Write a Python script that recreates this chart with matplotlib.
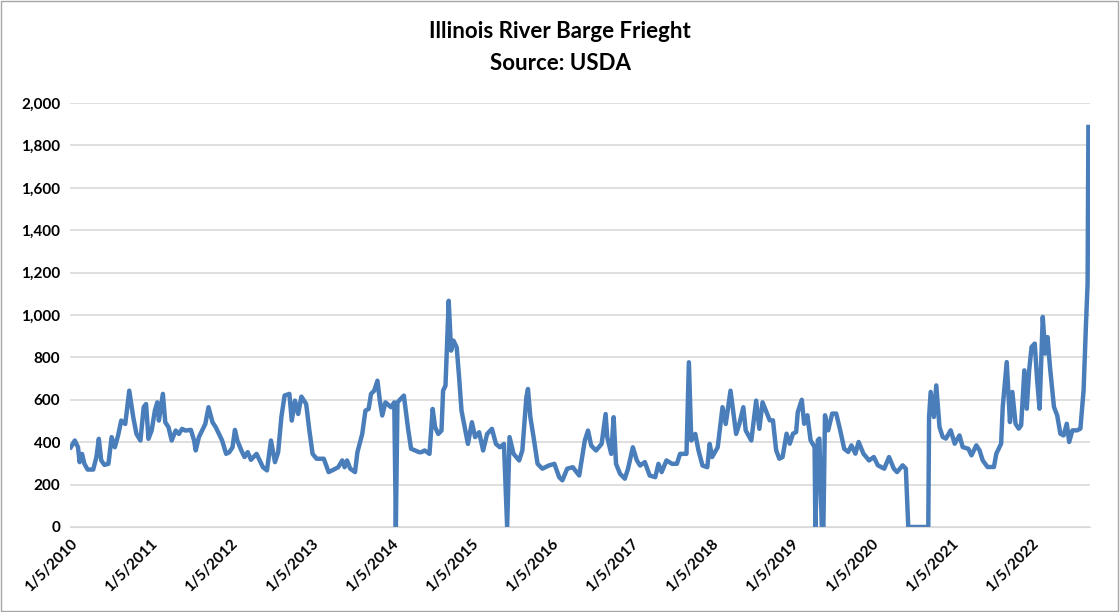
import matplotlib
matplotlib.use("Agg")
import matplotlib.pyplot as plt

# x = years since 1/5/2010, y = freight value
YEARS_OFF = [
    0.00, 0.05, 0.09, 0.11, 0.14, 0.17, 0.21, 0.28, 0.32, 0.35, 0.38, 0.42, 0.47, 0.51,
    0.55, 0.59, 0.63, 0.68, 0.73, 0.78, 0.82, 0.87, 0.91, 0.94, 0.97, 1.01, 1.05, 1.08,
    1.10, 1.15, 1.18, 1.22, 1.26, 1.31, 1.35, 1.39, 1.43, 1.50, 1.54, 1.56, 1.60, 1.64,
    1.68, 1.72, 1.77, 1.81, 1.85, 1.89, 1.94, 1.98, 2.02, 2.05, 2.08, 2.13, 2.17, 2.21,
    2.25, 2.32, 2.36, 2.40, 2.45, 2.50, 2.55, 2.59, 2.63, 2.67, 2.73, 2.76, 2.80, 2.84,
    2.88, 2.94, 2.98, 3.02, 3.07, 3.16, 3.22, 3.28, 3.34, 3.39, 3.42, 3.45, 3.49, 3.55,
    3.58, 3.64, 3.68, 3.72, 3.75, 3.79, 3.83, 3.86, 3.89, 3.93, 4.00, 4.04, 4.06, 4.08,
    4.16, 4.21, 4.25, 4.35, 4.38, 4.42, 4.48, 4.52, 4.55, 4.59, 4.63, 4.65, 4.68, 4.72,
    4.75, 4.78, 4.82, 4.85, 4.88, 4.92, 4.96, 5.01, 5.05, 5.10, 5.15, 5.20, 5.26, 5.31,
    5.36, 5.41, 5.45, 5.48, 5.53, 5.60, 5.64, 5.69, 5.71, 5.74, 5.78, 5.83, 5.89, 5.97,
    6.04, 6.10, 6.14, 6.20, 6.27, 6.35, 6.42, 6.46, 6.50, 6.56, 6.63, 6.68, 6.70, 6.75,
    6.78, 6.81, 6.86, 6.92, 6.96, 7.02, 7.07, 7.11, 7.17, 7.23, 7.30, 7.34, 7.38, 7.44,
    7.51, 7.57, 7.61, 7.69, 7.72, 7.75, 7.80, 7.84, 7.89, 7.95, 7.98, 8.01, 8.08, 8.14,
    8.18, 8.24, 8.31, 8.35, 8.40, 8.43, 8.50, 8.56, 8.60, 8.64, 8.73, 8.77, 8.81, 8.85,
    8.89, 8.94, 8.98, 9.02, 9.06, 9.08, 9.13, 9.16, 9.20, 9.24, 9.29, 9.30, 9.33, 9.35,
    9.38, 9.40, 9.42, 9.46, 9.51, 9.56, 9.61, 9.66, 9.71, 9.75, 9.80, 9.84, 9.90, 9.97,
    10.03, 10.08, 10.16, 10.22, 10.28, 10.32, 10.39, 10.43, 10.46, 10.71, 10.72, 10.74,
    10.78, 10.81, 10.85, 10.89, 10.93, 10.99, 11.04, 11.10, 11.14, 11.21, 11.25, 11.31,
    11.35, 11.39, 11.45, 11.53, 11.56, 11.62, 11.64, 11.69, 11.73, 11.76, 11.80, 11.84,
    11.87, 11.91, 11.94, 11.97, 12.00, 12.04, 12.07, 12.10, 12.14, 12.17, 12.20, 12.23,
    12.28, 12.32, 12.36, 12.40, 12.44, 12.47, 12.51, 12.57, 12.61, 12.65, 12.68, 12.70,
    12.71,
]
FREIGHT = [
    376, 408, 376, 306, 345, 298, 271, 271, 330, 416, 314, 293, 298, 424,
    376, 431, 502, 486, 643, 518, 439, 408, 565, 580, 416, 455, 549, 588,
    502, 628, 494, 471, 408, 455, 439, 463, 455, 458, 408, 361, 424, 455,
    486, 565, 494, 471, 439, 408, 345, 353, 376, 458, 408, 361, 330, 353,
    317, 345, 314, 282, 267, 408, 306, 353, 518, 620, 628, 502, 596, 533,
    615, 580, 455, 345, 322, 322, 259, 270, 282, 314, 282, 314, 275, 259,
    353, 439, 549, 557, 628, 643, 690, 596, 526, 588, 565, 588, 0, 588,
    620, 471, 369, 353, 353, 361, 345, 557, 471, 439, 455, 643, 667, 1067,
    832, 879, 847, 706, 549, 471, 392, 494, 424, 447, 361, 439, 463, 392,
    376, 392, 0, 424, 345, 314, 361, 612, 651, 518, 424, 298, 275, 290,
    298, 235, 220, 275, 282, 243, 408, 455, 384, 361, 392, 533, 424, 345,
    518, 298, 251, 228, 275, 376, 314, 290, 306, 243, 235, 298, 259, 314,
    298, 298, 345, 345, 777, 408, 439, 361, 290, 282, 392, 330, 376, 565,
    486, 643, 439, 486, 565, 455, 408, 596, 463, 588, 503, 503, 362, 322,
    330, 440, 393, 440, 448, 542, 600, 487, 527, 409, 377, 0, 409, 417,
    0, 0, 527, 456, 535, 535, 456, 369, 354, 385, 346, 401, 346, 314,
    330, 291, 275, 330, 275, 259, 291, 275, 0, 0, 519, 637,
    519, 668, 472, 425, 417, 456, 393, 432, 377, 369, 338, 385,
    362, 314, 283, 283, 346, 393, 566, 778, 495, 637, 487, 464,
    480, 739, 558, 739, 849, 865, 692, 558, 991, 818, 896, 755,
    566, 527, 440, 432, 487, 401, 456, 456, 464, 645, 959, 1148,
    1887,
]
TICK_YEARS = list(range(2010, 2023))
TICK_LABELS = [f"1/5/{y}" for y in TICK_YEARS]

plt.rcParams["font.family"] = ["Lato", "DejaVu Sans"]

fig = plt.figure(figsize=(11.2, 6.12), dpi=100)
ax = fig.add_axes([70 / 1120, 1 - 527 / 612, 1020 / 1120, 424 / 612])

ax.plot(YEARS_OFF, FREIGHT, color="#4a7ebb", lw=3.2, solid_joinstyle="round")

ax.set_ylim(0, 2000)
ax.set_yticks(range(0, 2001, 200))
ax.set_yticklabels([f"{v:,}" for v in range(0, 2001, 200)], fontsize=11, fontweight="bold")
ax.set_xlim(-0.01, 12.73)
ax.set_xticks([y - 2010 for y in TICK_YEARS])
ax.set_xticklabels(TICK_LABELS, rotation=45, ha="right", rotation_mode="anchor",
                   fontsize=11, fontweight="bold")
ax.tick_params(length=0, pad=7)
ax.grid(axis="y", color="#d9d9d9", lw=1.2)
ax.set_axisbelow(True)
for s in ["top", "right", "left"]:
    ax.spines[s].set_visible(False)
ax.spines["bottom"].set_color("#d9d9d9")

fig.text(0.5, 1 - 32 / 612, "Illinois River Barge Frieght", ha="center", va="center",
         fontsize=16, fontweight="bold")
fig.text(0.5, 1 - 63 / 612, "Source: USDA", ha="center", va="center",
         fontsize=16, fontweight="bold")

fig.patches.append(plt.Rectangle((0.001, 0.002), 0.997, 0.996, transform=fig.transFigure,
                                 fill=False, edgecolor="#a6a6a6", lw=1))

fig.savefig("out.png", dpi=100)
